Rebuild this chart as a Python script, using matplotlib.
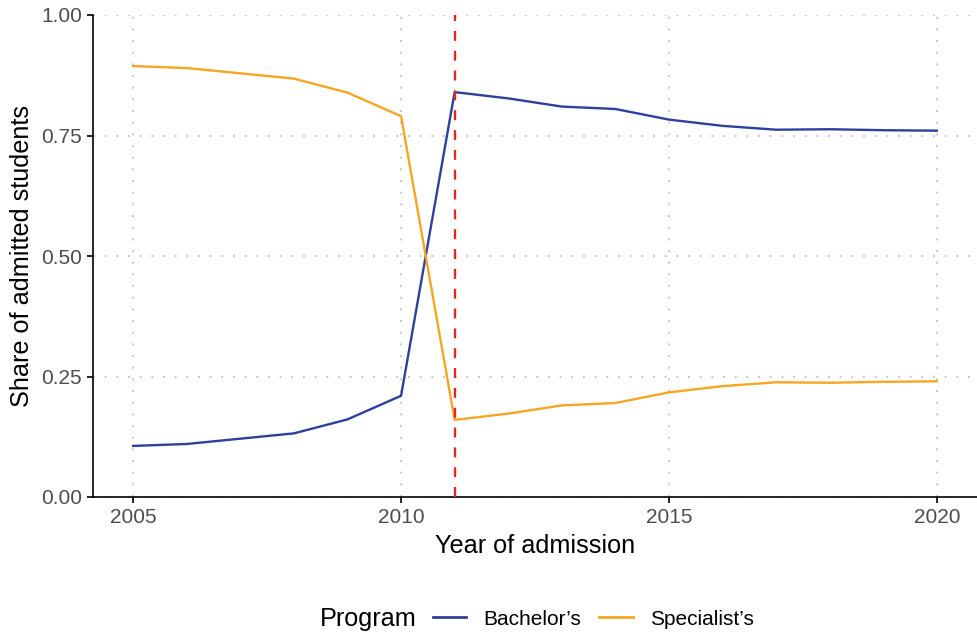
import numpy as np
import matplotlib.pyplot as plt
from matplotlib.lines import Line2D

plt.rcParams['font.family'] = ['Liberation Sans', 'DejaVu Sans']

# share of admitted students by program
years = [2005, 2006, 2007, 2008, 2009, 2010, 2011, 2012, 2013, 2014, 2015, 2016, 2017, 2018, 2019, 2020]
bachelor = [0.106, 0.110, 0.121, 0.132, 0.161, 0.210, 0.840, 0.827, 0.810, 0.805, 0.783, 0.770, 0.762, 0.763, 0.761, 0.760]
specialist = [0.894, 0.890, 0.879, 0.868, 0.839, 0.790, 0.160, 0.173, 0.190, 0.195, 0.217, 0.230, 0.238, 0.237, 0.239, 0.240]
reform_year = 2011

blue = '#2E3F9C'
orange = '#F5A623'
red = '#E0281F'

fig = plt.figure(figsize=(9.77, 6.35), dpi=100)
ax = fig.add_axes([93/977, 138/635, 884/977, 482/635])

ax.plot(years, bachelor, color=blue, lw=1.7, zorder=3)
ax.plot(years, specialist, color=orange, lw=1.7, zorder=3)
ax.axvline(reform_year, color=red, lw=1.7, ls=(0, (4.2, 4.2)), zorder=4)

ax.set_xlim(2004.25, 2020.75)
ax.set_ylim(0, 1)
ax.set_xticks([2005, 2010, 2015, 2020])
ax.set_yticks([0, 0.25, 0.5, 0.75, 1.0])
ax.set_yticklabels(['0.00', '0.25', '0.50', '0.75', '1.00'])
ax.grid(True, color='#C8C8C8', ls=(0, (1, 5)), lw=1.4)
ax.set_axisbelow(True)

for s in ['top', 'right']:
    ax.spines[s].set_visible(False)
for s in ['left', 'bottom']:
    ax.spines[s].set_linewidth(1.2)
ax.tick_params(length=4, width=1.2, pad=4, colors='black', labelcolor='#4D4D4D', labelsize=15)

ax.set_xlabel('Year of admission', fontsize=18.2, labelpad=5)
ax.set_ylabel('Share of admitted students', fontsize=18.2, labelpad=5)

handles = [Line2D([], [], color=blue, lw=2), Line2D([], [], color=orange, lw=2)]
fig.text(320/977, 0.025, 'Program', fontsize=18.2, va='center')
fig.legend(handles, ["Bachelor\u2019s", "Specialist\u2019s"], loc='center left',
           bbox_to_anchor=(433/977, 0.025), ncol=2, frameon=False, fontsize=15,
           borderpad=0, borderaxespad=0, handlelength=1.6, columnspacing=0.87,
           handletextpad=0.82)

fig.savefig('out.png', dpi=100)
